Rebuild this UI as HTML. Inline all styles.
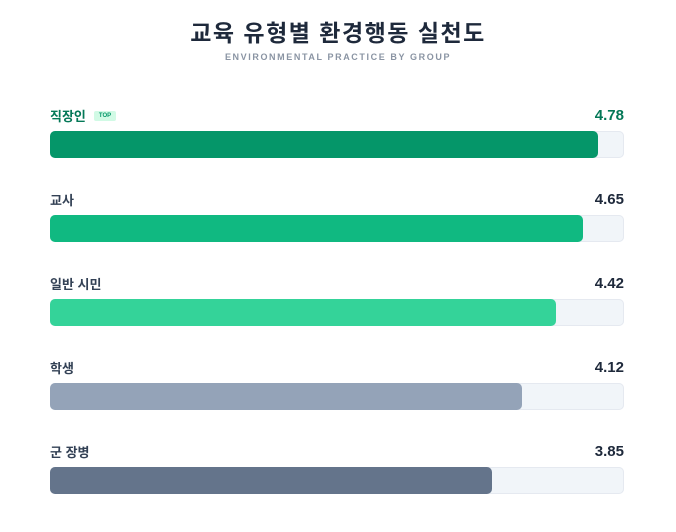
<!DOCTYPE html>
<html><head><meta charset="utf-8"><style>
body{margin:0;width:676px;height:532px;background:#fff;font-family:"Liberation Sans","Noto Sans CJK KR",sans-serif;position:relative;overflow:hidden}
.t{position:absolute;top:14px;left:0;width:676px;text-align:center;font-size:23px;font-weight:bold;color:#1e293b;letter-spacing:1.5px}
.s{position:absolute;top:52px;left:0;width:676px;text-align:center;font-size:9px;letter-spacing:1.6px;color:#8a94a3;font-weight:bold}
.row{position:absolute;left:50px;width:574px}
.lab{position:absolute;left:0;top:0;font-size:13px;font-weight:bold;color:#334155;line-height:18px;white-space:nowrap}
.val{position:absolute;right:0;top:-2px;font-size:15px;font-weight:bold;color:#1e293b;line-height:20px}
.tr{position:absolute;left:0;top:23px;width:574px;height:27px;background:#f1f5f9;border-radius:5px;box-shadow:inset 0 0 0 1px #e5e9f0}
.f{height:27px;border-radius:5px}
.tag{display:inline-block;font-size:6px;line-height:8px;background:#d1fae5;color:#059669;padding:1px 5px;border-radius:2px;vertical-align:middle;margin-left:8px;position:relative;top:-2px}
</style></head><body>
<div class="t">교육 유형별 환경행동 실천도</div>
<div class="s">ENVIRONMENTAL PRACTICE BY GROUP</div>
<div class="row" style="top:108px"><div class="lab" style="color:#047857">직장인<span class="tag">TOP</span></div><div class="val" style="color:#047857">4.78</div><div class="tr"><div class="f" style="width:548px;background:#059669"></div></div></div>
<div class="row" style="top:192px"><div class="lab">교사</div><div class="val">4.65</div><div class="tr"><div class="f" style="width:533px;background:#10b981"></div></div></div>
<div class="row" style="top:276px"><div class="lab">일반 시민</div><div class="val">4.42</div><div class="tr"><div class="f" style="width:506px;background:#34d399"></div></div></div>
<div class="row" style="top:360px"><div class="lab">학생</div><div class="val">4.12</div><div class="tr"><div class="f" style="width:472px;background:#94a3b8"></div></div></div>
<div class="row" style="top:444px"><div class="lab">군 장병</div><div class="val">3.85</div><div class="tr"><div class="f" style="width:442px;background:#64748b"></div></div></div>
</body></html>
